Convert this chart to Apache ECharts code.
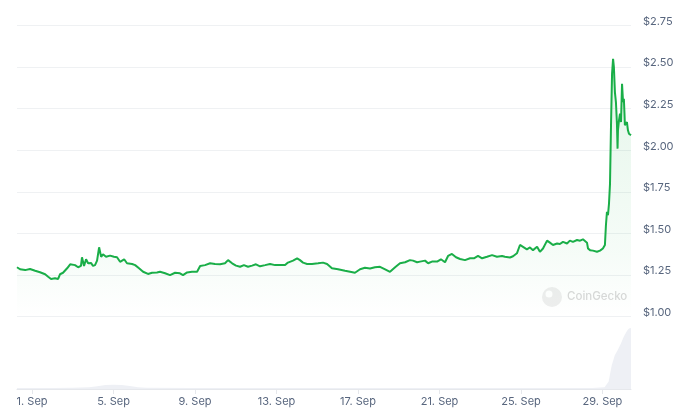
<!DOCTYPE html>
<html>
<head>
<meta charset="utf-8">
<script src="https://cdn.jsdelivr.net/npm/echarts@6/dist/echarts.min.js"></script>
<style>
html,body{margin:0;padding:0;background:#fff;}
#c{width:683px;height:418px;}
</style>
</head>
<body>
<div id="c"></div>
<script>
// Day offsets from 1 Sep 00:00 (0 = 1 Sep), and USD prices
var priceDays = [-0.74,-0.59,-0.34,-0.10,0.15,0.39,0.64,0.79,0.93,1.13,1.28,1.37,1.52,1.72,1.87,2.11,2.26,2.40,2.45,2.55,2.65,2.75,2.90,2.99,3.09,3.19,3.29,3.39,3.48,3.63,3.83,4.02,4.17,4.32,4.52,4.66,4.91,5.06,5.25,5.45,5.69,5.89,6.13,6.28,6.53,6.77,7.02,7.26,7.41,7.61,7.85,8.10,8.25,8.49,8.74,8.98,9.23,9.47,9.62,9.82,10.01,10.21,10.40,10.60,10.80,10.99,11.19,11.44,11.68,11.93,12.17,12.42,12.56,12.81,13.01,13.15,13.30,13.50,13.74,14.04,14.28,14.48,14.72,15.02,15.36,15.61,15.85,16.10,16.34,16.59,16.83,17.08,17.33,17.57,17.82,18.06,18.31,18.55,18.70,18.90,19.04,19.29,19.44,19.63,19.88,20.07,20.27,20.42,20.61,20.81,21.01,21.25,21.50,21.69,21.89,22.09,22.33,22.58,22.82,23.07,23.21,23.46,23.61,23.80,23.95,24.10,24.29,24.44,24.59,24.79,24.93,25.08,25.28,25.42,25.57,25.77,25.91,26.06,26.26,26.40,26.55,26.75,26.90,27.04,27.24,27.29,27.39,27.53,27.73,27.88,28.02,28.12,28.17,28.22,28.27,28.32,28.37,28.42,28.47,28.52,28.56,28.61,28.66,28.71,28.74,28.76,28.81,28.86,28.91,28.96,29.01,29.05,29.08,29.10,29.15,29.20,29.25,29.30,29.35,29.40];
var prices = [1.297,1.285,1.28,1.287,1.276,1.267,1.255,1.24,1.227,1.231,1.227,1.255,1.264,1.291,1.315,1.31,1.297,1.305,1.357,1.305,1.345,1.321,1.323,1.305,1.31,1.337,1.417,1.36,1.375,1.36,1.367,1.36,1.357,1.33,1.345,1.321,1.317,1.31,1.291,1.27,1.257,1.264,1.266,1.27,1.261,1.25,1.264,1.261,1.25,1.266,1.27,1.27,1.305,1.31,1.321,1.317,1.315,1.321,1.34,1.321,1.307,1.30,1.31,1.30,1.307,1.315,1.303,1.31,1.317,1.31,1.31,1.31,1.325,1.337,1.351,1.34,1.325,1.317,1.317,1.321,1.325,1.317,1.291,1.285,1.276,1.27,1.264,1.285,1.294,1.29,1.297,1.30,1.285,1.27,1.297,1.321,1.327,1.34,1.337,1.327,1.331,1.337,1.321,1.331,1.331,1.345,1.327,1.365,1.377,1.357,1.347,1.34,1.351,1.351,1.365,1.351,1.36,1.37,1.36,1.365,1.36,1.356,1.363,1.381,1.431,1.42,1.405,1.416,1.40,1.42,1.39,1.41,1.457,1.445,1.431,1.44,1.437,1.45,1.44,1.457,1.45,1.461,1.457,1.465,1.445,1.41,1.40,1.397,1.39,1.397,1.41,1.431,1.551,1.63,1.61,1.68,1.80,2.16,2.46,2.55,2.50,2.35,2.29,2.16,2.01,2.12,2.18,2.22,2.17,2.40,2.29,2.31,2.22,2.15,2.14,2.17,2.12,2.10,2.10,2.09];

// Relative trading volume (peak = 100)
var volumeDays = [-0.74,1.0,2.0,2.8,3.2,3.6,4.0,4.4,4.8,5.2,5.6,8.0,12.0,16.0,20.0,24.0,27.5,28.1,28.3,28.45,28.6,28.75,28.9,29.05,29.2,29.3,29.40];
var volumes = [1.5,1.5,2,3,4.5,6.5,7,6.5,5,3,2,1.5,1.5,1.5,1.5,1.5,1.5,3,12,38,55,64,74,86,95,99,100];

var xTickDays = [0,4,8,12,16,20,24,28];
var xTickLabels = ["1. Sep","5. Sep","9. Sep","13. Sep","17. Sep","21. Sep","25. Sep","29. Sep"];
var yTicks = [1.00,1.25,1.50,1.75,2.00,2.25,2.50,2.75];

var priceData = priceDays.map(function(d,i){return [d, prices[i]];});
var volData = volumeDays.map(function(d,i){return [d, volumes[i]];});

var FONT = 'Inter, "Noto Sans", sans-serif';
var chart = echarts.init(document.getElementById('c'), null, {renderer:'canvas'});
chart.setOption({
  animation: false,
  backgroundColor: '#ffffff',
  grid: [
    {left: 17, right: 52, top: 25.5, height: 291.2},
    {left: 17, right: 52, top: 328, bottom: 29}
  ],
  xAxis: [
    {type:'value', gridIndex:0, min:-0.74, max:29.40, show:false},
    {type:'value', gridIndex:1, min:-0.74, max:29.40,
     axisLine:{show:true, lineStyle:{color:'#e6e8ec', width:1}},
     axisTick:{show:true, length:5, lineStyle:{color:'#e6e8ec'}, customValues: xTickDays},
     axisLabel:{customValues: xTickDays, color:'#58667e', fontSize:11, fontFamily:FONT, margin:7,
       formatter:function(v){var i = xTickDays.indexOf(Math.round(v)); return i>=0 ? xTickLabels[i] : '';}},
     splitLine:{show:false}}
  ],
  yAxis: [
    {type:'value', gridIndex:0, position:'right', min:yTicks[0], max:yTicks[yTicks.length-1], interval:0.25,
     axisLine:{show:false}, axisTick:{show:false},
     splitLine:{show:true, lineStyle:{color:'#eff1f3', width:1}},
     axisLabel:{color:'#58667e', fontSize:11, fontFamily:FONT, margin:12, verticalAlign:'bottom', lineHeight:8,
       formatter:function(v){return '$' + v.toFixed(2);}}},
    {type:'value', gridIndex:1, min:0, max:100, show:false}
  ],
  graphic: [
    {type:'circle', shape:{cx:552, cy:297, r:10}, style:{fill:'#eeeeee'}, z:1},
    {type:'circle', shape:{cx:549, cy:294, r:3.5}, style:{fill:'#ffffff'}, z:1},
    {type:'text', left:567, top:291, style:{text:'CoinGecko', fill:'#d9d9d9', fontSize:11.5, fontFamily:FONT, fontWeight:500}, z:1}
  ],
  series: [
    {type:'line', xAxisIndex:0, yAxisIndex:0, data:priceData, showSymbol:false, symbol:'none',
     lineStyle:{color:'#1aae48', width:2},
     areaStyle:{color:new echarts.graphic.LinearGradient(0,0,0,1,[
        {offset:0, color:'rgba(26,174,72,0.17)'},
        {offset:0.75, color:'rgba(26,174,72,0.06)'},
        {offset:1, color:'rgba(26,174,72,0.0)'}])},
     z:3},
    {type:'line', xAxisIndex:1, yAxisIndex:1, data:volData, showSymbol:false, symbol:'none',
     lineStyle:{width:0}, areaStyle:{color:'#eef0f5', opacity:1}, z:2}
  ]
});
</script>
</body>
</html>
